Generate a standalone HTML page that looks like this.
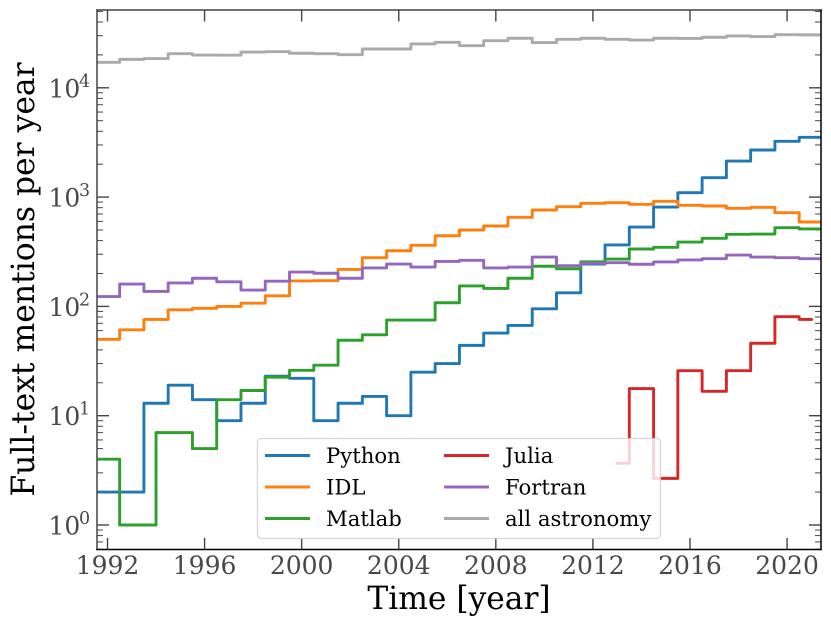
<!DOCTYPE html>
<html lang="en">
<head>
<meta charset="utf-8">
<title>Full-text mentions per year</title>
<style>
html,body{margin:0;padding:0;background:#fff;}
body{width:831px;height:626px;overflow:hidden;}
svg{display:block;font-family:"DejaVu Serif","Liberation Serif",serif;}
</style>
</head>
<body>
<svg id="chart" xmlns="http://www.w3.org/2000/svg" width="831" height="626" viewBox="0 0 831 626">
  <defs>
    <clipPath id="plot-clip"><rect x="97" y="10" width="724" height="539.5"></rect></clipPath>
  </defs>
  <g id="ticks"></g>
  <g id="series" clip-path="url(#plot-clip)"></g>
  <g id="spines">
    <line x1="97" y1="9.3" x2="97" y2="550.2" stroke="#444" stroke-width="1.5"></line>
    <line x1="96.3" y1="10" x2="821.7" y2="10" stroke="#444" stroke-width="1.5"></line>
    <line x1="96.3" y1="549.5" x2="821.7" y2="549.5" stroke="#000" stroke-width="1.5"></line>
    <line x1="821" y1="9.3" x2="821" y2="550.2" stroke="#000" stroke-width="1.5"></line>
  </g>
  <g id="tick-labels" fill="#484848"></g>
  <text x="459" y="609" text-anchor="middle" font-size="31.3" fill="#000">Time [year]</text>
  <text transform="translate(34 279.5) rotate(-90)" text-anchor="middle" font-size="31.4" fill="#000">Full-text mentions per year</text>
  <g font-size="21.2" fill="#000">
    <rect x="257.5" y="438.5" width="403" height="100" rx="4" ry="4" fill="#fff" fill-opacity="0.8" stroke="#ccc" stroke-opacity="0.8" stroke-width="1.3"></rect>
    <line x1="265" y1="455.5" x2="310" y2="455.5" stroke="#1f77b4" stroke-width="2.9"></line>
    <text x="326" y="463">Python</text>
    <line x1="265" y1="487" x2="310" y2="487" stroke="#ff7f0e" stroke-width="2.9"></line>
    <text x="326" y="494.5">IDL</text>
    <line x1="265" y1="518.5" x2="310" y2="518.5" stroke="#2ca02c" stroke-width="2.9"></line>
    <text x="326" y="526">Matlab</text>
    <line x1="444" y1="455.5" x2="489" y2="455.5" stroke="#d62728" stroke-width="2.9"></line>
    <text x="505" y="463">Julia</text>
    <line x1="444" y1="487" x2="489" y2="487" stroke="#9467bd" stroke-width="2.9"></line>
    <text x="505" y="494.5">Fortran</text>
    <line x1="444" y1="518.5" x2="489" y2="518.5" stroke="#aaa" stroke-width="2.9"></line>
    <text x="505" y="526">all astronomy</text>
  </g>
</svg>
<script>
const xTickYears = [1992, 1996, 2000, 2004, 2008, 2012, 2016, 2020];
const yTickExponents = [0, 1, 2, 3, 4];

const fullYears = [1992,1993,1994,1995,1996,1997,1998,1999,2000,2001,2002,2003,2004,2005,2006,2007,2008,2009,2010,2011,2012,2013,2014,2015,2016,2017,2018,2019,2020,2021];
const matlabYears = [1992,1993,1995,1996,1997,1998,1999,2000,2001,2002,2003,2004,2005,2006,2007,2008,2009,2010,2011,2012,2013,2014,2015,2016,2017,2018,2019,2020,2021];
const juliaYears = [2013,2014,2015,2016,2017,2018,2019,2020,2021];

const pythonValues = [2,2,13,19,14,9,13,23,22,9,13,15,10,25,30,44,57,67,95,133,244,365,532,811,1097,1506,2138,2698,3240,3524];
const idlValues = [50,61,76,93,96,100,107,125,171,172,218,279,323,362,443,500,544,653,762,817,877,889,859,915,841,829,790,807,720,592];
const matlabValues = [4,1,7,5,14,17,22.5,26,29,49,55,75,75,108,154,146,181,233,221,256,271,335,347,388,420,457,459,525,511];
const juliaValues = [3.67,17.7,2.67,25.8,16.7,25.8,46,80.5,76];
const fortranValues = [123,160,137,164,181,168,141,170,206,201,181,225,244,229,258,264,225,229,283,236,248,251,243,255,266,273,295,283,279,273];
const astronomyValues = [17100,18200,18500,20500,19950,19900,21250,21400,20700,20500,20100,22650,22650,25200,26060,24300,26980,28400,25930,27790,28400,27800,27350,28400,28300,29000,29800,29400,30600,30500];

const NS = 'http://www.w3.org/2000/svg';
const AX_LEFT = 97, AX_RIGHT = 821, AX_TOP = 10, AX_BOTTOM = 549.5;

function xScale(year) { return 107.5 + (year - 1992) * 24.27; }
function yScale(value) { return 525 - 109.3 * Math.log10(value); }

function stepPath(years, values, extend) {
  let d = '';
  const first = extend ? AX_LEFT - 5 : xScale(years[0]);
  const last = extend ? AX_RIGHT + 5 : xScale(years[years.length - 1]);
  d += 'M' + first.toFixed(2) + ' ' + yScale(values[0]).toFixed(2);
  for (let i = 0; i < years.length - 1; i++) {
    const mid = xScale((years[i] + years[i + 1]) / 2).toFixed(2);
    d += 'L' + mid + ' ' + yScale(values[i]).toFixed(2);
    d += 'L' + mid + ' ' + yScale(values[i + 1]).toFixed(2);
  }
  d += 'L' + last.toFixed(2) + ' ' + yScale(values[values.length - 1]).toFixed(2);
  return d;
}

function addSeries(name, years, values, color, extend) {
  const path = document.createElementNS(NS, 'path');
  
  
  path.setAttribute('d', stepPath(years, values, extend));
  path.setAttribute('fill', 'none');
  path.setAttribute('stroke', color);
  path.setAttribute('stroke-width', '2.9');
  path.setAttribute('stroke-linejoin', 'round');
  path.setAttribute('stroke-linecap', 'square');
  document.getElementById('series').appendChild(path);
}

function addTick(name, x1, y1, x2, y2, width) {
  const tick = document.createElementNS(NS, 'line');
  
  
  tick.setAttribute('x1', x1);
  tick.setAttribute('y1', y1);
  tick.setAttribute('x2', x2);
  tick.setAttribute('y2', y2);
  tick.setAttribute('stroke', '#444');
  tick.setAttribute('stroke-width', width);
  document.getElementById('ticks').appendChild(tick);
}

addSeries('series-python', fullYears, pythonValues, '#1f77b4', true);
addSeries('series-idl', fullYears, idlValues, '#ff7f0e', true);
addSeries('series-matlab', matlabYears, matlabValues, '#2ca02c', true);
addSeries('series-julia', juliaYears, juliaValues, '#d62728', false);
addSeries('series-fortran', fullYears, fortranValues, '#9467bd', true);
addSeries('series-all-astronomy', fullYears, astronomyValues, '#aaa', true);

const labelGroup = document.getElementById('tick-labels');

xTickYears.forEach(function (year) {
  const x = xScale(year);
  addTick('x-tick-bottom', x, AX_BOTTOM, x, AX_BOTTOM - 11.5, 1.4);
  addTick('x-tick-top', x, AX_TOP, x, AX_TOP + 11.5, 1.4);
  const label = document.createElementNS(NS, 'text');
  
  
  label.setAttribute('x', x);
  label.setAttribute('y', 574);
  label.setAttribute('text-anchor', 'middle');
  label.setAttribute('font-size', '25');
  label.textContent = String(year);
  labelGroup.appendChild(label);
});

yTickExponents.forEach(function (exp) {
  const y = yScale(Math.pow(10, exp));
  addTick('y-tick-left', AX_LEFT, y, AX_LEFT + 12, y, 1.4);
  addTick('y-tick-right', AX_RIGHT, y, AX_RIGHT - 12, y, 1.4);
  const label = document.createElementNS(NS, 'text');
  
  
  label.setAttribute('x', 48.5);
  label.setAttribute('y', y + 9.5);
  label.setAttribute('font-size', '25');
  label.textContent = '10';
  labelGroup.appendChild(label);
  const sup = document.createElementNS(NS, 'text');
  
  
  sup.setAttribute('x', 79);
  sup.setAttribute('y', y - 1);
  sup.setAttribute('font-size', '17.5');
  sup.textContent = String(exp);
  labelGroup.appendChild(sup);
});

for (let exp = -1; exp <= 4; exp++) {
  for (let m = 2; m <= 9; m++) {
    const y = yScale(m * Math.pow(10, exp));
    if (y > AX_TOP && y < AX_BOTTOM) {
      addTick('y-minor-tick-left', AX_LEFT, y, AX_LEFT + 6, y, 1);
      addTick('y-minor-tick-right', AX_RIGHT, y, AX_RIGHT - 6, y, 1);
    }
  }
}
</script>
</body>
</html>
